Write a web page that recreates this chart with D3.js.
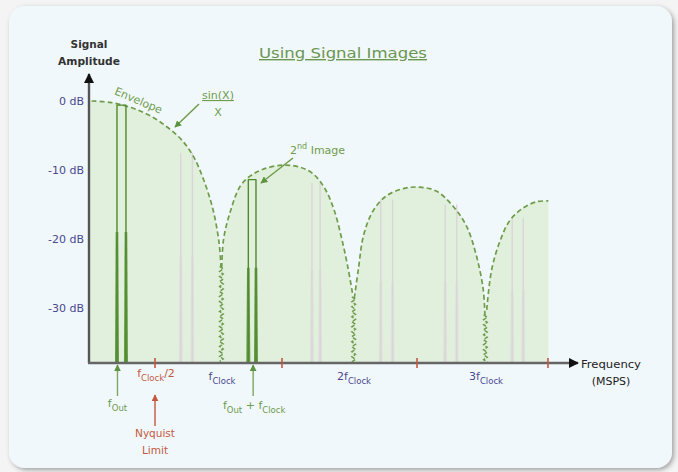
<!DOCTYPE html>
<html><head><meta charset="utf-8">
<script src="https://cdn.jsdelivr.net/npm/d3@7/dist/d3.min.js"></script>
<style>
html,body{margin:0;padding:0;background:#f4f4f4;}
svg{display:block;font-family:"DejaVu Sans",Verdana,sans-serif;}
</style></head>
<body>
<svg id="chart" width="678" height="472"></svg>
<script>
// ---- data (frequency in units of fClock, amplitude in dB) ----
const yTicks = [0, -10, -20, -30];
const lobe1 = [[0.02,0],[0.16,-0.2],[0.31,-0.9],[0.45,-2],[0.58,-3.6],[0.7,-5.6],[0.79,-8],[0.87,-11.5],[0.94,-15.8],[0.985,-20.5],[1.0,-24]];
const lobe2 = [[1.005,-24.2],[1.02,-20],[1.068,-16.2],[1.144,-12.4],[1.22,-10.9],[1.318,-9.9],[1.47,-9.3],[1.6,-9.6],[1.7,-10.6],[1.79,-12.8],[1.86,-16],[1.915,-20],[1.96,-24],[2.0,-28.3]];
const lobe3 = [[2.01,-28.6],[2.04,-24.5],[2.08,-19.5],[2.15,-16],[2.25,-13.8],[2.381,-12.7],[2.508,-12.5],[2.634,-13.1],[2.76,-15.3],[2.861,-18.2],[2.937,-22.6],[2.987,-27.4],[3.0,-31.3]];
const lobe4 = [[3.013,-30.3],[3.05,-24.5],[3.114,-20.3],[3.189,-17.3],[3.29,-15.5],[3.392,-14.6],[3.48,-14.5]];
const nulls = [{f:1.003, top:-24}, {f:2.005, top:-28.4}, {f:3.003, top:-31}];
// signal tones: centre, half spacing of the pair, top level, skirt level
const mainTones = [{f:0.246, half:0.034, top:-0.6, skirt:-19}, {f:1.236, half:0.029, top:-11.4, skirt:-24.2}];
const imageTones = [{f:0.739, half:0.044, top:-7.5, skirt:-22.6}, {f:1.72, half:0.031, top:-11.9, skirt:-24.5},
  {f:2.255, half:0.045, top:-14.3, skirt:-26.2}, {f:2.742, half:0.044, top:-15, skirt:-26.2}, {f:3.248, half:0.042, top:-17, skirt:-27.4}];
const halfTicks = [0.5, 1.462, 2.485, 3.477];
const clockLabels = [{f:1.0, pre:"", sub:"Clock"}, {f:2.0, pre:"2", sub:"Clock"}, {f:3.0, pre:"3", sub:"Clock"}];

const svg = d3.select("#chart");
const defs = svg.append("defs");
const flt = defs.append("filter").attr("id","sh").attr("x","-5%").attr("y","-5%").attr("width","110%").attr("height","110%");
flt.append("feDropShadow").attr("dx",2).attr("dy",2).attr("stdDeviation",2.5).attr("flood-color","#000").attr("flood-opacity",0.35);
function marker(id, color, w, h){
  defs.append("marker").attr("id",id).attr("viewBox","0 0 10 10").attr("refX",9).attr("refY",5)
    .attr("markerWidth",w).attr("markerHeight",h).attr("orient","auto").attr("markerUnits","userSpaceOnUse")
    .append("path").attr("d","M0,0L10,5L0,10Z").attr("fill",color);
}
marker("arrBlack","#111",14,10);
marker("arrGreen","#5d9440",7,7);
marker("arrRed","#c4583e",7,7);

svg.append("rect").attr("x",9).attr("y",6).attr("width",663).attr("height",462).attr("rx",16)
  .attr("fill","#f1f8fb").attr("filter","url(#sh)");

const x = d3.scaleLinear().domain([0, 3.6]).range([89, 89 + 3.6*132]);
const y = d3.scaleLinear().domain([-38, 0]).range([363, 101]);
const GREEN = "#4f8a2c", ENV = "#6f9c4b", RED = "#c4583e", BLUE = "#4a4890";
const curve = d3.curveCatmullRom.alpha(0.5);

// fill under envelope
[lobe1, lobe2, lobe3, lobe4].forEach(l=>{
  svg.append("path").datum(l)
    .attr("d", d3.area().x(d=>x(d[0])).y0(y(-38)).y1(d=>y(d[1])).curve(curve))
    .attr("fill","#e1f0dd");
});
// gap fills at the nulls and start at the y axis
svg.selectAll(".gapfill").data([[[0,0],[0.02,0]],[[1.0,-24],[1.005,-24.2]],[[2.0,-28.3],[2.01,-28.6]],[[3.0,-31.3],[3.013,-30.3]]])
  .join("path").attr("d", d3.area().x(d=>x(d[0])).y0(y(-38)).y1(d=>y(d[1])))
  .attr("fill","#e1f0dd").attr("stroke","#e1f0dd").attr("stroke-width",0.6);

// tones
function tone(g, t, color, thin, baseOpacity, joinTop){
  const xl = x(t.f - t.half), xr = x(t.f + t.half);
  const p = d3.path();
  p.moveTo(xl, y(-38)); p.lineTo(xl, y(t.top));
  if (joinTop){ p.lineTo(xr, y(t.top)); } else { p.moveTo(xr, y(t.top)); }
  p.lineTo(xr, y(-38));
  g.append("path").attr("d", p.toString()).attr("fill","none").attr("stroke",color).attr("stroke-width",thin)
    .attr("stroke-linejoin","round");
  [xl, xr].forEach(cx=>{
    g.append("path").attr("d", `M${cx-1.3},${y(t.skirt)}L${cx+1.3},${y(t.skirt)}L${cx+2},${y(-38)}L${cx-2},${y(-38)}Z`)
      .attr("fill",color).attr("opacity",baseOpacity);
  });
}
const gImg = svg.append("g");
imageTones.forEach(t=>tone(gImg, t, "#dcd4da", 1.4, 0.5, false));

// envelope dashed
const envLine = d3.line().x(d=>x(d[0])).y(d=>y(d[1])).curve(curve);
[lobe1, lobe2, lobe3, lobe4].forEach(l=>{
  svg.append("path").datum(l).attr("d", envLine).attr("fill","none")
    .attr("stroke",ENV).attr("stroke-width",1.7).attr("stroke-dasharray","5,3");
});
// wavy lines at nulls
nulls.forEach(n=>{
  const y0 = y(n.top), y1 = y(-38), pts = [];
  let k = 0;
  for (let yy = y0; yy <= y1; yy += 2.5, k++) pts.push([x(n.f) + (k%2 ? 1.8 : -1.8), yy]);
  svg.append("path").attr("d", d3.line()(pts)).attr("fill","none").attr("stroke",ENV)
    .attr("stroke-width",1.5).attr("stroke-dasharray","4,1.5");
});

// main tones
const gMain = svg.append("g");
mainTones.forEach(t=>tone(gMain, t, GREEN, 1.4, 0.85, true));

// axes
svg.append("line").attr("x1",89).attr("y1",y(-38)).attr("x2",89).attr("y2",74)
  .attr("stroke","#555").attr("stroke-width",2.4).attr("marker-end","url(#arrBlack)");
svg.append("line").attr("x1",88).attr("y1",y(-38)).attr("x2",578).attr("y2",y(-38))
  .attr("stroke","#666").attr("stroke-width",2.6).attr("marker-end","url(#arrBlack)");
// red half-clock ticks
svg.selectAll(".ht").data(halfTicks).join("line").attr("x1",d=>x(d)).attr("x2",d=>x(d))
  .attr("y1",y(-38)-5).attr("y2",y(-38)+5).attr("stroke",RED).attr("stroke-width",1.6);

// y tick labels via axis
const yAxis = svg.append("g").attr("transform","translate(84,0)")
  .call(d3.axisLeft(y).tickValues(yTicks).tickSize(0).tickPadding(0).tickFormat(d=>d+" dB"));
yAxis.select(".domain").remove();
yAxis.selectAll("text").attr("fill",BLUE).attr("font-size",11).attr("font-family","DejaVu Sans");

// axis titles
svg.append("text").attr("x",89).attr("y",48).attr("text-anchor","middle").attr("font-size",10.5)
  .attr("font-weight","bold").attr("fill","#333").text("Signal");
svg.append("text").attr("x",89).attr("y",65).attr("text-anchor","middle").attr("font-size",10.5)
  .attr("font-weight","bold").attr("fill","#333").attr("textLength",62).attr("lengthAdjust","spacingAndGlyphs").text("Amplitude");
svg.append("text").attr("x",581).attr("y",368).attr("font-size",11).attr("textLength",60)
  .attr("lengthAdjust","spacingAndGlyphs").attr("fill","#222").text("Frequency");
svg.append("text").attr("x",611).attr("y",385).attr("text-anchor","middle").attr("font-size",11).attr("fill","#222").text("(MSPS)");

// title
svg.append("text").attr("x",343).attr("y",58).attr("text-anchor","middle").attr("font-size",14)
  .attr("textLength",168).attr("lengthAdjust","spacingAndGlyphs")
  .attr("fill","#6a9650").attr("text-decoration","underline").text("Using Signal Images");

// Envelope label & sin(x)/x
svg.append("text").attr("transform","translate(137,104) rotate(23)").attr("text-anchor","middle")
  .attr("font-size",11).attr("fill",ENV).text("Envelope");
svg.append("text").attr("x",218).attr("y",99).attr("text-anchor","middle").attr("font-size",11)
  .attr("fill",ENV).attr("text-decoration","underline").text("sin(X)");
svg.append("text").attr("x",218).attr("y",116).attr("text-anchor","middle").attr("font-size",11)
  .attr("fill",ENV).text("X");
svg.append("line").attr("x1",199).attr("y1",104).attr("x2",175).attr("y2",127)
  .attr("stroke",ENV).attr("stroke-width",1.5).attr("marker-end","url(#arrGreen)");
// 2nd image
const t2 = svg.append("text").attr("x",290).attr("y",154).attr("font-size",11).attr("fill",ENV);
t2.append("tspan").text("2");
t2.append("tspan").attr("dy",-5).attr("font-size",8).text("nd");
t2.append("tspan").attr("dy",5).text(" Image");
svg.append("line").attr("x1",293).attr("y1",158).attr("x2",261).attr("y2",183)
  .attr("stroke",ENV).attr("stroke-width",1.5).attr("marker-end","url(#arrGreen)");

// bottom labels
function fsub(xp, yp, parts, color){
  const t = svg.append("text").attr("x",xp).attr("y",yp).attr("text-anchor","middle")
    .attr("font-size",11).attr("fill",color);
  parts.forEach(p=>{
    t.append("tspan").attr("dy",p.sub ? 3.5 : (p.back ? -3.5 : 0)).attr("font-size",p.sub?8.5:11).text(p.t);
  });
  return t;
}
clockLabels.forEach(c=>{
  fsub(x(c.f) + 1, 380, [{t:c.pre+"f"},{t:c.sub, sub:true}], BLUE);
});
fsub(x(0.5) + 1, 377, [{t:"f"},{t:"Clock", sub:true},{t:"/2", back:true}], RED);
// fOut arrow
const fOutX = x(mainTones[0].f) - 4;
svg.append("line").attr("x1",fOutX).attr("y1",396).attr("x2",fOutX).attr("y2",365)
  .attr("stroke","#7aa85e").attr("stroke-width",1.4).attr("marker-end","url(#arrGreen)");
fsub(fOutX, 407, [{t:"f"},{t:"Out", sub:true}], "#6d9a4e");
const fImX = x(mainTones[1].f) + 1;
svg.append("line").attr("x1",fImX).attr("y1",396).attr("x2",fImX).attr("y2",365)
  .attr("stroke","#7aa85e").attr("stroke-width",1.4).attr("marker-end","url(#arrGreen)");
fsub(fImX + 1, 409, [{t:"f"},{t:"Out", sub:true},{t:" + f", back:true},{t:"Clock", sub:true}], "#6d9a4e");
// Nyquist
svg.append("line").attr("x1",x(0.5)).attr("y1",426).attr("x2",x(0.5)).attr("y2",395)
  .attr("stroke",RED).attr("stroke-width",1.4).attr("marker-end","url(#arrRed)");
svg.append("text").attr("x",x(0.5)).attr("y",437).attr("text-anchor","middle").attr("font-size",10.5).attr("fill",RED).text("Nyquist");
svg.append("text").attr("x",x(0.5)).attr("y",454).attr("text-anchor","middle").attr("font-size",10.5).attr("fill",RED).text("Limit");
</script>
</body></html>
